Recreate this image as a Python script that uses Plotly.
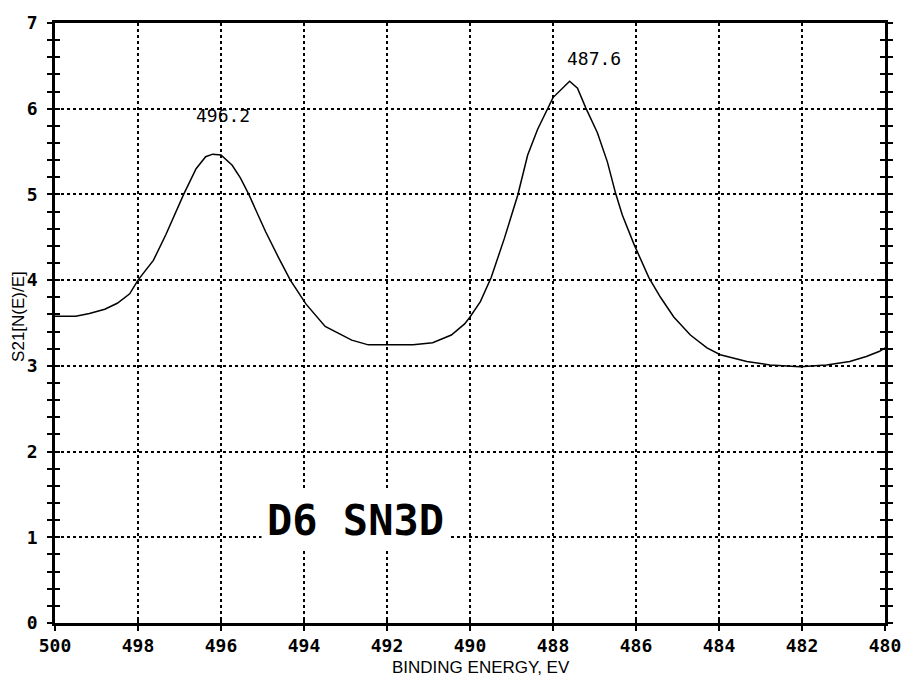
import plotly.graph_objects as go

# Sn 3d XPS spectrum: binding energy (eV) vs normalised intensity
energy = [500.0, 499.5, 499.17, 498.8, 498.5, 498.2, 498.0, 497.63, 497.33, 497.09,
          496.9, 496.6, 496.37, 496.2, 496.0, 495.73, 495.53, 495.33, 494.93, 494.61,
          494.33, 493.95, 493.65, 493.49, 492.85, 492.45, 491.37, 490.9, 490.45, 490.13,
          490.0, 489.75, 489.49, 489.17, 488.85, 488.61, 488.37, 488.13, 488.0, 487.6,
          487.41, 487.21, 486.93, 486.69, 486.49, 486.33, 486.05, 485.69, 485.41, 485.09,
          484.69, 484.29, 483.97, 483.33, 482.77, 482.05, 481.41, 480.85, 480.45, 480.13,
          480.0]
intensity = [3.58, 3.58, 3.61, 3.66, 3.73, 3.84, 4.0, 4.23, 4.53, 4.80,
             5.0, 5.30, 5.44, 5.47, 5.46, 5.34, 5.19, 5.0, 4.57, 4.26,
             4.0, 3.72, 3.55, 3.46, 3.30, 3.245, 3.245, 3.27, 3.36, 3.49,
             3.57, 3.75, 4.03, 4.49, 4.99, 5.46, 5.76, 6.01, 6.13, 6.32,
             6.24, 6.01, 5.72, 5.38, 5.01, 4.76, 4.42, 4.03, 3.80, 3.57,
             3.36, 3.21, 3.13, 3.05, 3.01, 2.99, 3.01, 3.05, 3.11, 3.17,
             3.21]

peak_labels = ["496.2", "487.6"]
peak_label_x = [495.94, 487.02]
peak_label_y = [5.92, 6.59]

sample_name = "D6 SN3D"
x_title = "BINDING ENERGY, EV"
y_title = "S21[N(E)/E]"

x_range = [500, 480]
y_range = [0, 7]

mono = "DejaVu Sans Mono"
ink = "black"

fig = go.Figure()
fig.add_trace(go.Scatter(x=energy, y=intensity, mode="lines",
                         line=dict(color=ink, width=1.5), hoverinfo="skip",
                         showlegend=False))
# invisible copy of the curve so the inside-tick overlay axes get drawn
fig.add_trace(go.Scatter(x=energy, y=intensity, mode="lines", xaxis="x2", yaxis="y2",
                         line=dict(color="rgba(0,0,0,0)", width=0), hoverinfo="skip",
                         showlegend=False))

axis_line = dict(showline=True, linecolor=ink, linewidth=2.5, zeroline=False)
tick_font = dict(family=mono, size=18, color=ink, weight="bold")

fig.update_layout(
    width=913, height=680,
    margin=dict(l=55, r=24, t=16, b=57),
    paper_bgcolor="white", plot_bgcolor="white",
    xaxis=dict(range=x_range, dtick=2, tick0=480, ticks="outside", ticklen=5,
               tickwidth=2, tickcolor=ink, mirror=True,
               showgrid=True, gridcolor=ink, griddash="dot", gridwidth=1.5,
               tickfont=tick_font, **axis_line),
    xaxis2=dict(range=x_range, overlaying="x", dtick=2, tick0=480, ticks="inside",
                ticklen=5, tickwidth=2, tickcolor=ink, showticklabels=False,
                showgrid=False, zeroline=False, showline=False),
    yaxis=dict(range=y_range, dtick=1, ticks="outside", ticklen=5, tickwidth=2,
               tickcolor=ink, mirror="ticks",
               minor=dict(dtick=0.2, ticks="outside", ticklen=5, tickwidth=2,
                          tickcolor=ink, showgrid=False),
               showgrid=True, gridcolor=ink, griddash="dot", gridwidth=1.5,
               ticklabelstandoff=6,
               tickfont=tick_font, **axis_line),
    yaxis2=dict(range=y_range, overlaying="y", dtick=1, ticks="inside", ticklen=5,
                tickwidth=2, tickcolor=ink, mirror="ticks", showticklabels=False,
                minor=dict(dtick=0.2, ticks="inside", ticklen=5, tickwidth=2,
                           tickcolor=ink, showgrid=False),
                showgrid=False, zeroline=False, showline=False),
)

for txt, px, py in zip(peak_labels, peak_label_x, peak_label_y):
    fig.add_annotation(x=px, y=py, text=txt, showarrow=False,
                       xanchor="center", yanchor="middle",
                       font=dict(family=mono, size=18, color=ink))

fig.add_annotation(x=492.75, y=1.2, text="<b>" + sample_name + "</b>", showarrow=False,
                   xanchor="center", yanchor="middle", bgcolor="white",
                   borderpad=5, font=dict(family=mono, size=42, color=ink))

fig.add_annotation(xref="paper", yref="paper", x=0.513, y=-0.074, text=x_title,
                   showarrow=False, xanchor="center", yanchor="middle",
                   font=dict(family="Liberation Sans", size=17, color=ink))
fig.add_annotation(xref="paper", yref="paper", x=-0.044, y=0.511, text=y_title,
                   textangle=-90, showarrow=False, xanchor="center", yanchor="middle",
                   font=dict(family="Liberation Sans", size=17, color=ink))

fig.write_html("out.html")
